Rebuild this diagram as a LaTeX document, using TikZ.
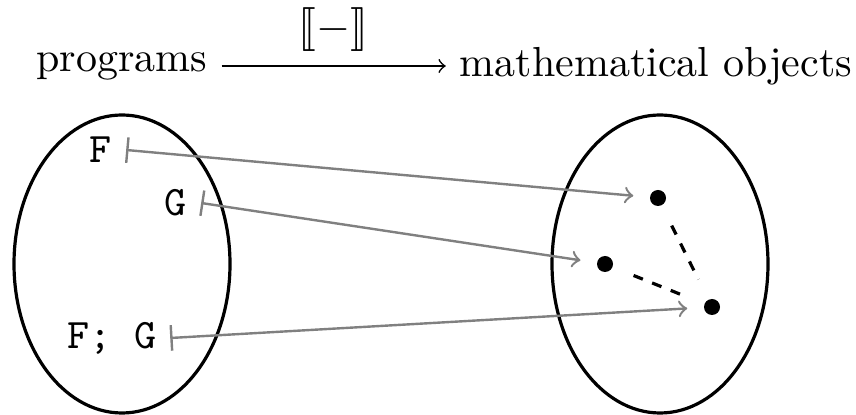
\documentclass[tikz,border=0pt]{standalone}
\usepackage{stmaryrd}
\usetikzlibrary{shapes.geometric}

\begin{document}
\begin{tikzpicture}[
    x=0.25pt, y=-0.25pt,
    font=\fontsize{10.5}{13}\selectfont,
    set/.style={ellipse, draw, thick, inner sep=0pt, minimum width=54pt, minimum height=74.5pt},
    prog/.style={font=\fontsize{10.5}{13}\selectfont\ttfamily},
    dot/.style={circle, fill, inner sep=0pt, minimum size=4pt},
    mapsto/.style={|->, gray, semithick, shorten >=4pt},
    link/.style={dash pattern=on 2.5pt off 2.5pt, thick, shorten <=5.5pt, shorten >=5.5pt}
]
    \useasboundingbox (0,0) rectangle (856,415);

    % Heading
    \node (programs) at (122,66) {programs};
    \node (objects) at (656,66) {mathematical objects};
    \draw[->] (programs) -- (objects) node[midway, above] {$\llbracket - \rrbracket$};

    % The two sets
    \node[set] (dom) at (122,264) {};
    \node[set] (cod) at (660,264) {};

    % Programs
    \node[prog] (f) at (101,150) {F};
    \node[prog] (g) at (176,203) {G};
    \node[prog] (fg) at (112,338) {F; G};

    % Meanings
    \node[dot] (d1) at (658,198) {};
    \node[dot] (d2) at (605,264) {};
    \node[dot] (d3) at (712,307) {};

    % Semantic map
    \draw[mapsto] (f.east) -- (d1);
    \draw[mapsto] (g.east) -- (d2);
    \draw[mapsto] (fg.east) -- (d3);

    % Composition
    \draw[link] (d1) -- (d3);
    \draw[link] (d2) -- (d3);
\end{tikzpicture}
\end{document}
